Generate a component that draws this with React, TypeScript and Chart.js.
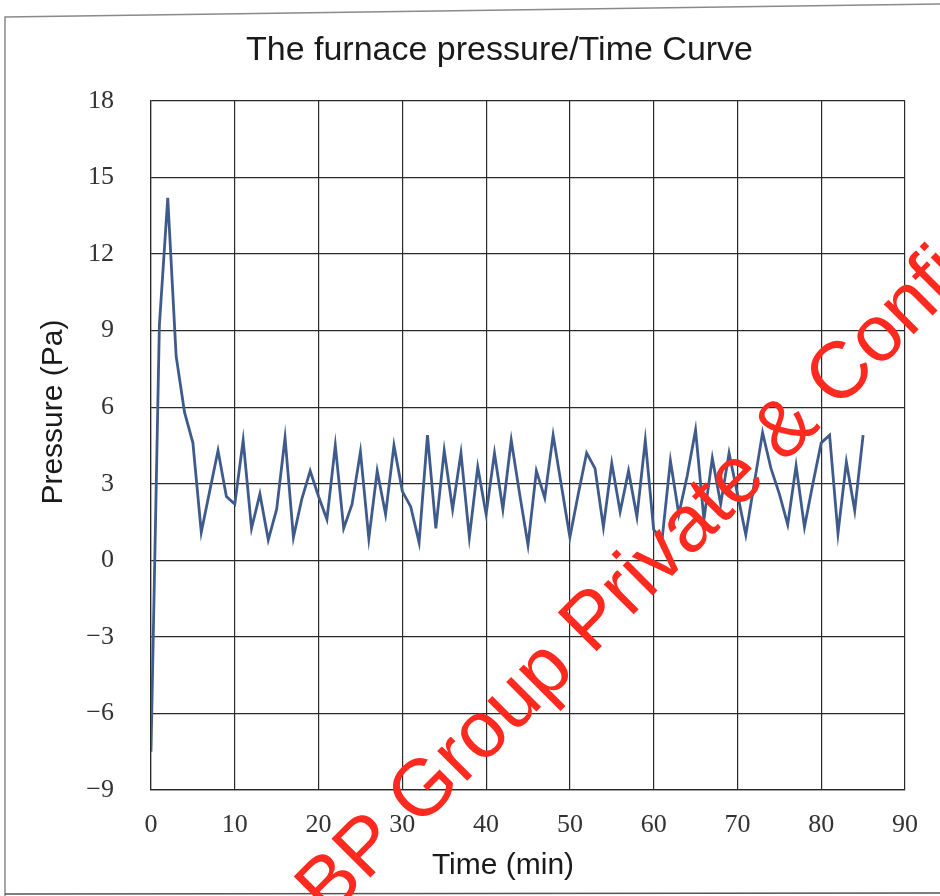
import React, { useEffect, useRef } from 'react';
import { Chart, registerables } from 'chart.js';

Chart.register(...registerables);

const times: number[] = [
  0, 1, 2, 3, 4, 5, 6, 7, 8, 9,
  10, 11, 12, 13, 14, 15, 16, 17, 18, 19,
  20, 21, 22, 23, 24, 25, 26, 27, 28, 29,
  30, 31, 32, 33, 34, 35, 36, 37, 38, 39,
  40, 41, 42, 43, 44, 45, 46, 47, 48, 49,
  50, 51, 52, 53, 54, 55, 56, 57, 58, 59,
  60, 61, 62, 63, 64, 65, 66, 67, 68, 69,
  70, 71, 72, 73, 74, 75, 76, 77, 78, 79,
  80, 81, 82, 83, 84, 85,
];

const pressure: number[] = [
  -7.5, 9.2, 14.2, 8.0, 5.8, 4.6, 1.1, 2.7, 4.3, 2.5,
  2.2, 4.7, 1.25, 2.6, 0.8, 2.0, 4.8, 0.9, 2.4, 3.5,
  2.5, 1.6, 4.5, 1.25, 2.2, 4.25, 0.85, 3.5, 1.8, 4.5,
  2.7, 2.1, 0.7, 4.9, 1.25, 4.3, 2.0, 4.2, 0.9, 3.65,
  1.8, 4.2, 2.0, 4.7, 2.6, 0.6, 3.5, 2.45, 4.9, 2.9,
  0.9, 2.6, 4.2, 3.6, 1.3, 3.8, 1.9, 3.5, 1.7, 4.7,
  1.2, 0.8, 3.9, 1.8, 3.3, 5.1, 1.6, 4.0, 2.2, 4.2,
  2.6, 1.0, 3.0, 5.0, 3.6, 2.6, 1.4, 3.7, 1.3, 3.0,
  4.6, 4.9, 1.05, 3.85, 1.95, 4.9,
];

const X_MIN = 0;
const X_MAX = 90;
const X_STEP = 10;
const Y_MIN = -9;
const Y_MAX = 18;
const Y_STEP = 3;

const TITLE = 'The furnace pressure/Time Curve';
const X_TITLE = 'Time (min)';
const Y_TITLE = 'Pressure (Pa)';
const WATERMARK = 'BP Group Private & Confidential';

const SANS = '"Liberation Sans", Arial, sans-serif';
const SERIF = '"Liberation Serif", "Times New Roman", serif';

const pagePlugin = {
  id: 'page',
  afterLayout(chart: any) {
    const tb = chart.titleBlock;
    if (tb) {
      tb.left += 47;
      tb.right += 47;
    }
  },
  beforeDraw(chart: any) {
    const { ctx, width, height } = chart;
    ctx.save();
    ctx.fillStyle = '#ffffff';
    ctx.fillRect(0, 0, width, height);
    ctx.strokeStyle = '#8a8a8a';
    ctx.lineWidth = 1.5;
    ctx.beginPath();
    ctx.moveTo(5, height);
    ctx.lineTo(5, 17);
    ctx.lineTo(width, 4);
    ctx.stroke();
    ctx.strokeStyle = '#555';
    ctx.beginPath();
    ctx.moveTo(5, height - 2);
    ctx.lineTo(width, height - 3);
    ctx.stroke();
    ctx.restore();
  },
  afterDraw(chart: any) {
    const { ctx } = chart;
    ctx.save();
    ctx.translate(328, 920);
    ctx.rotate(-Math.PI / 4);
    ctx.font = '80px ' + SANS;
    ctx.fillStyle = '#ff2a1f';
    ctx.textBaseline = 'alphabetic';
    ctx.textAlign = 'left';
    ctx.fillText(WATERMARK, 0, 0);
    ctx.restore();
  },
};

export default function App() {
  const ref = useRef<HTMLCanvasElement>(null);

  useEffect(() => {
    const canvas = ref.current;
    if (!canvas) return;
    const gridColor = '#2a2a2a';
    const chart = new Chart(canvas, {
      type: 'line',
      data: {
        datasets: [
          {
            data: times.map((t, i) => ({ x: t, y: pressure[i] })),
            borderColor: '#3f5b8c',
            borderWidth: 2.8,
            pointRadius: 0,
            tension: 0,
            fill: false,
          },
        ],
      },
      options: {
        responsive: false,
        animation: false,
        layout: { padding: { top: 0, right: 35, bottom: 0, left: 0 } },
        plugins: {
          legend: { display: false },
          tooltip: { enabled: false },
          title: {
            display: true,
            text: TITLE,
            color: '#1a1a1a',
            font: { family: SANS, size: 34, weight: 'normal' },
            padding: { top: 30, bottom: 30 },
          },
        },
        scales: {
          x: {
            type: 'linear',
            min: X_MIN,
            max: X_MAX,
            afterFit: (s: any) => {
              s.height = 106;
            },
            ticks: {
              stepSize: X_STEP,
              padding: 20,
              color: '#333',
              maxRotation: 0,
              font: { family: SERIF, size: 26 },
            },
            grid: { color: gridColor, lineWidth: 1.2, drawTicks: false },
            border: { color: gridColor, width: 1.2 },
            title: {
              display: true,
              text: X_TITLE + '      ',
              color: '#1a1a1a',
              font: { family: SANS, size: 30 },
              padding: { top: 0, bottom: 12 },
            },
          },
          y: {
            type: 'linear',
            min: Y_MIN,
            max: Y_MAX,
            afterFit: (s: any) => {
              s.width = 151;
            },
            ticks: {
              stepSize: Y_STEP,
              padding: 37,
              color: '#333',
              font: { family: SERIF, size: 26 },
              callback: (v: any) => String(v).replace('-', '\u2212'),
            },
            grid: { color: gridColor, lineWidth: 1.2, drawTicks: false },
            border: { color: gridColor, width: 1.2 },
            title: {
              display: true,
              text: '        ' + Y_TITLE,
              color: '#1a1a1a',
              font: { family: SANS, size: 30 },
              padding: { top: 36, bottom: 0 },
            },
          },
        },
      },
      plugins: [pagePlugin],
    } as any);
    return () => chart.destroy();
  }, []);

  return (
    <div style={{ position: 'fixed', left: 0, top: 0, width: 940, height: 896, background: '#fff', overflow: 'hidden' }}>
      <canvas ref={ref} width={940} height={896} style={{ display: 'block', width: 940, height: 896 }} />
    </div>
  );
}
